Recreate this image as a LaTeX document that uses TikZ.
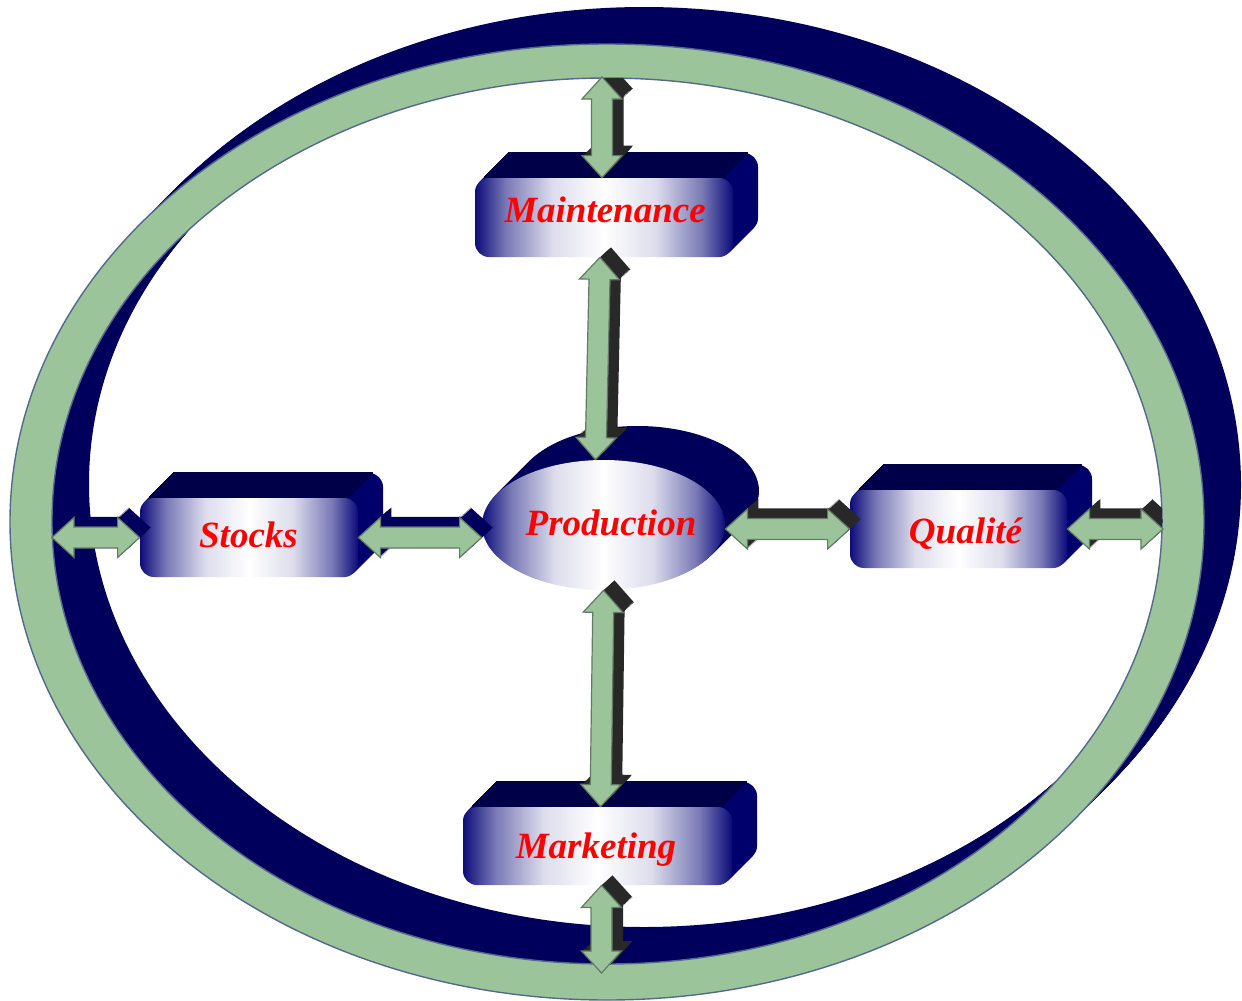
\documentclass[tikz,border=0pt]{standalone}
\usepackage{fontspec}
\newfontfamily\labfont{Liberation Serif}
\usetikzlibrary{calc,shapes.geometric}
\definecolor{ringnavy}{RGB}{0,0,92}
\definecolor{ringgreen}{RGB}{155,196,155}
\definecolor{ringline}{RGB}{85,105,140}
\definecolor{boxtopc}{RGB}{0,0,72}
\definecolor{boxsidec}{RGB}{0,0,108}
\definecolor{prodside}{RGB}{0,0,90}
\definecolor{frontnavy}{RGB}{12,12,122}
\definecolor{arrowline}{RGB}{100,122,100}
\definecolor{shadowdark}{RGB}{40,40,40}
\definecolor{shadownavy}{RGB}{0,0,92}
\definecolor{labred}{RGB}{255,0,0}
\pgfdeclarehorizontalshading{boxshade}{100bp}{color(0bp)=(frontnavy); color(25bp)=(frontnavy); color(31bp)=(frontnavy!55!white); color(40bp)=(frontnavy!14!white); color(50bp)=(white); color(60bp)=(frontnavy!14!white); color(69bp)=(frontnavy!55!white); color(75bp)=(frontnavy); color(100bp)=(frontnavy)}
\tikzset{
  frontface/.style={draw=none, inner sep=0pt, shading=boxshade},
  frontbox/.style={frontface, rectangle, rounded corners=7pt},
  labtext/.style={font=\labfont\bfseries\itshape\fontsize{18.5}{20}\selectfont, text=labred, inner sep=0pt, anchor=base},
  arrowbody/.style={fill=ringgreen, draw=arrowline, line width=0.6pt, line join=miter},
}
\newcommand\arrowgeom[2]{%
  \path (#1); \pgfgetlastxy{\ax}{\ay}%
  \path (#2); \pgfgetlastxy{\bx}{\by}%
  \pgfmathsetmacro\alen{veclen(\bx-\ax,\by-\ay)}%
  \pgfmathsetmacro\ahb{\alen-11}%
  \pgfmathsetmacro\aang{atan2(\by-\ay,\bx-\ax)}%
}
\newcommand\arrowpath{(0pt,0pt) -- (11pt,10pt) -- (11pt,5.25pt) -- (\ahb pt,5.25pt) -- (\ahb pt,10pt) -- (\alen pt,0pt) -- (\ahb pt,-10pt) -- (\ahb pt,-5.25pt) -- (11pt,-5.25pt) -- (11pt,-10pt) -- cycle}
\newcommand\ashadow[3]{%
  \arrowgeom{#2}{#3}%
  \foreach \t in {0.5,1,...,5.5}{%
    \fill[#1, shift={(\ax+\t pt,\ay+0.91*\t pt)}, rotate=\aang] \arrowpath;
  }}
\newcommand\abody[2]{%
  \arrowgeom{#1}{#2}%
  \filldraw[arrowbody, shift={(\ax,\ay)}, rotate=\aang] \arrowpath;}
\newcommand\boxdepth[4]{%
  \foreach \t in {25,24,...,1}{%
    \begin{scope}[shift={(\t,-\t)}]
      \fill[boxsidec, rounded corners=7pt] (#1,#2) rectangle (#3,#4);
      \draw[boxtopc, line width=1pt] ({#1+8},#2) -- ({#3-10},#2);
    \end{scope}}}
\begin{document}
\begin{tikzpicture}[x=0.5pt, y=-0.5pt]
\useasboundingbox (0,0) rectangle (1242,1001);
\fill[white] (0,0) rectangle (1242,1001);
% ring extrusion
\foreach \t in {37,36,...,1}{%
  \fill[ringnavy, even odd rule, shift={(\t,-\t)}] (607,522) ellipse [x radius=597, y radius=478] (607,521) ellipse [x radius=555, y radius=443];
}
% green ring
\filldraw[fill=ringgreen, draw=ringline, line width=0.7pt, even odd rule] (607,522) ellipse [x radius=597, y radius=478] (607,521) ellipse [x radius=555, y radius=443];
\coordinate (ringT) at (602,77);
\coordinate (ringB) at (601.5,973);
\coordinate (ringL) at (52,537.5);
\coordinate (ringR) at (1163,529);
% box depths
\boxdepth{475}{178}{733}{257}
\boxdepth{140}{498}{358}{577}
\boxdepth{850}{490}{1067}{568}
\boxdepth{463}{807}{732}{885}
\foreach \t in {34,33,...,1}{%
  \fill[prodside, shift={(\t,-\t)}] (603.5,525) ellipse [x radius=121.5, y radius=65];
}
% front faces
\node[frontbox, minimum width=129pt, minimum height=39.5pt] (maint) at (604,217.5) {};
\node[frontbox, minimum width=109pt, minimum height=39.5pt] (stocks) at (249,537.5) {};
\node[frontbox, minimum width=108.5pt, minimum height=39pt] (qual) at (958.5,529) {};
\node[frontbox, minimum width=134.5pt, minimum height=39pt] (mark) at (597.5,846) {};
\node[frontface, ellipse, minimum width=121.5pt, minimum height=65pt] (prod) at (603.5,525) {};
% arrow shadows
\begin{scope}
\clip (607,521) ellipse [x radius=555, y radius=443];
\ashadow{shadowdark}{ringT}{[xshift=-1pt]maint.north}
\ashadow{shadowdark}{[xshift=-2pt]maint.south}{[xshift=-4pt]prod.north}
\ashadow{shadowdark}{prod.south}{[xshift=1.5pt]mark.north}
\ashadow{shadowdark}{[xshift=2pt]mark.south}{ringB}
\ashadow{shadownavy}{ringL}{stocks.west}
\ashadow{shadownavy}{stocks.east}{prod.west |- stocks.east}
\ashadow{shadowdark}{prod.east |- qual.west}{qual.west}
\ashadow{shadowdark}{qual.east}{ringR}
\end{scope}
% arrow bodies
\abody{ringT}{[xshift=-1pt]maint.north}
\abody{[xshift=-2pt]maint.south}{[xshift=-4pt]prod.north}
\abody{prod.south}{[xshift=1.5pt]mark.north}
\abody{[xshift=2pt]mark.south}{ringB}
\abody{ringL}{stocks.west}
\abody{stocks.east}{prod.west |- stocks.east}
\abody{prod.east |- qual.west}{qual.west}
\abody{qual.east}{ringR}
% labels
\node[labtext] (tmaint) at (605,222) {Maintenance};
\node[labtext] (tprod) at (611,535) {Production};
\node[labtext] (tstocks) at (248.5,547) {Stocks};
\node[labtext] (tqual) at (965.5,543) {Qualité};
\node[labtext] (tmark) at (596,858) {Marketing};
\end{tikzpicture}
\end{document}
